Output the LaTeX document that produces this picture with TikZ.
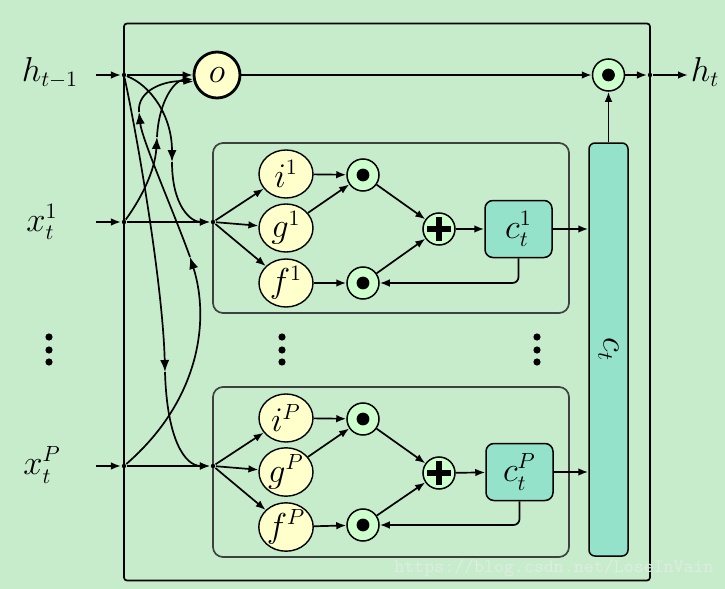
\documentclass[tikz,border=0pt]{standalone}
\usetikzlibrary{arrows.meta,shapes.geometric}
\definecolor{bg}{HTML}{C6ECCC}
\definecolor{gateY}{HTML}{FFFFCC}
\definecolor{opG}{HTML}{CCFFCC}
\definecolor{cellC}{HTML}{93E2C9}
\definecolor{wmark}{RGB}{221,237,224}
\begin{document}
\begin{tikzpicture}[x=0.5pt,y=-0.5pt,
  font=\fontsize{16}{19}\selectfont,
  >={Latex[length=5pt,width=3.8pt]},
  line width=0.85pt,
  midarr/.style={-{Latex[length=6pt,width=4.6pt]}},
  outerbox/.style={draw, rounded corners=1.5pt, minimum width=263pt, minimum height=278.5pt, inner sep=0pt},
  module/.style={draw=black!75, rounded corners=5pt, minimum width=178pt, minimum height=85pt, inner sep=0pt},
  gate/.style={ellipse, draw, fill=gateY, minimum width=27pt, minimum height=24pt, inner sep=0pt, line width=0.7pt},
  ogate/.style={circle, draw, fill=gateY, line width=1.4pt, minimum size=23pt, inner sep=0pt},
  prod/.style={circle, draw, fill=opG, minimum size=16pt, inner sep=0pt, line width=0.75pt,
    path picture={\fill[black] (path picture bounding box.center) circle (3.2pt);}},
  sumop/.style={circle, draw, fill=opG, minimum size=16pt, inner sep=0pt, line width=0.75pt,
    path picture={\draw[black, line width=2.6pt] ([xshift=-6pt]path picture bounding box.center) -- ([xshift=6pt]path picture bounding box.center);
                  \draw[black, line width=2.6pt] ([yshift=-6pt]path picture bounding box.center) -- ([yshift=6pt]path picture bounding box.center);}},
  cell/.style={draw, fill=cellC, rounded corners=4pt, minimum width=33.5pt, minimum height=28.5pt, inner sep=0pt, line width=0.75pt},
  bigcell/.style={draw, fill=cellC, rounded corners=3pt, minimum width=19.5pt, minimum height=206.5pt, inner sep=0pt, line width=0.75pt},
  jdot/.style={circle, fill, inner sep=0pt, minimum size=2.2pt},
]
\fill[bg] (0,0) rectangle (725,589);
\useasboundingbox (0,0) rectangle (725,589);

% containers
\node[outerbox] (outer) at (387,302) {};
\node[module] (mod1) at (391,228) {};
\node[module] (modP) at (391,472) {};
\node[bigcell] (bigc) at (608.5,349.5) {\rotatebox{-90}{$c_t$}};

% labels
\node (hlab) at (50,73) {$h_{t-1}$};
\node (x1lab) at (42,222) {$x_t^1$};
\node (xPlab) at (42,465) {$x_t^P$};
\node (htlab) at (705,72) {$h_t$};
\node[text=wmark, font=\ttfamily\fontsize{9.5}{11}\selectfont] (wm) at (554,568) {https://blog.csdn.net/LoseInVain};

% junctions
\node[jdot] (jh) at (124,75) {};
\node[jdot] (jx1) at (124,222) {};
\node[jdot] (jxP) at (124,466) {};
\node[jdot] (m1) at (213,222) {};
\node[jdot] (mP) at (213,466) {};
\node[jdot] (jout) at (650,75) {};
\coordinate (hs) at (96,75);
\coordinate (x1s) at (96,222);
\coordinate (xPs) at (96,466);
\coordinate (hend) at (688,75);

% top gates
\node[ogate] (o) at (217,75) {$o$};
\node[prod] (ot) at (608.5,75) {};

% module 1
\node[gate] (i1) at (286,174) {$i^1$};
\node[gate] (g1) at (286,228) {$g^1$};
\node[gate] (f1) at (286,283) {$f^1$};
\node[prod] (o1a) at (363,175) {};
\node[prod] (o1b) at (363,283) {};
\node[sumop] (p1) at (439,229) {};
\node[cell] (c1) at (518.5,229) {$c_t^1$};

% module P
\node[gate] (iP) at (286,418) {$i^P$};
\node[gate] (gP) at (286,472) {$g^P$};
\node[gate] (fP) at (286,527) {$f^P$};
\node[prod] (oPa) at (363,419) {};
\node[prod] (oPb) at (363,525) {};
\node[sumop] (pP) at (439,473) {};
\node[cell] (cP) at (519.5,472) {$c_t^P$};

% vertical dots
\foreach \xx in {49,282,537} {
  \foreach \yy in {337,350,362} {
    \fill (\xx,\yy) circle (1.8pt);
  }
}

% inputs
\draw[->] (hs) -- (jh);
\draw[->] (x1s) -- (jx1);
\draw[->] (xPs) -- (jxP);
\draw[->] (jh) -- (o);
\draw[->] (jx1) -- (m1);
\draw[->] (jxP) -- (mP);

% h_{t-1} to module 1
\coordinate (ha) at (172,162);
\draw[midarr] (jh) .. controls (150,85) and (172,115) .. (ha);
\draw[->] (ha) .. controls (172,205) and (190,222) .. (m1);
% h_{t-1} to module P
\coordinate (hb) at (165,372);
\draw[midarr] (jh) .. controls (140,150) and (163,290) .. (hb);
\draw[->] (hb) .. controls (167,440) and (185,466) .. (mP);
% x^1 to o
\coordinate (xa) at (157,137);
\draw[midarr] (jx1) .. controls (140,200) and (155,172) .. (xa);
\draw[->] (xa) .. controls (159,100) and (175,80) .. (o.190);
% x^P to o
\coordinate (xb1) at (190,257);
\coordinate (xb2) at (139,112);
\draw[midarr] (jxP) .. controls (200,400) and (210,320) .. (xb1);
\draw[midarr] (xb1) .. controls (175,215) and (142,140) .. (xb2);
\draw[->] (xb2) .. controls (137,90) and (165,80) .. (o.196);

% output
\draw[->] (o) -- (ot);
\draw[->] (bigc.north) -- (ot);
\draw[->] (ot) -- (jout);
\draw[->] (jout) -- (hend);

% module 1 wiring
\draw[->] (m1) -- (i1);
\draw[->] (m1) -- (g1);
\draw[->] (m1) -- (f1);
\draw[->] (i1) -- (o1a);
\draw[->] (g1) -- (o1a);
\draw[->] (f1) -- (o1b);
\draw[->] (o1a) -- (p1);
\draw[->] (o1b) -- (p1);
\draw[->] (p1) -- (c1);
\draw[->, rounded corners=3pt] (c1.south) |- (o1b);
\draw[->] (c1.east) -- (c1.east -| bigc.west);

% module P wiring
\draw[->] (mP) -- (iP);
\draw[->] (mP) -- (gP);
\draw[->] (mP) -- (fP);
\draw[->] (iP) -- (oPa);
\draw[->] (gP) -- (oPa);
\draw[->] (fP) -- (oPb);
\draw[->] (oPa) -- (pP);
\draw[->] (oPb) -- (pP);
\draw[->] (pP) -- (cP);
\draw[->, rounded corners=3pt] (cP.south) |- (oPb);
\draw[->] (cP.east) -- (cP.east -| bigc.west);
\end{tikzpicture}
\end{document}
